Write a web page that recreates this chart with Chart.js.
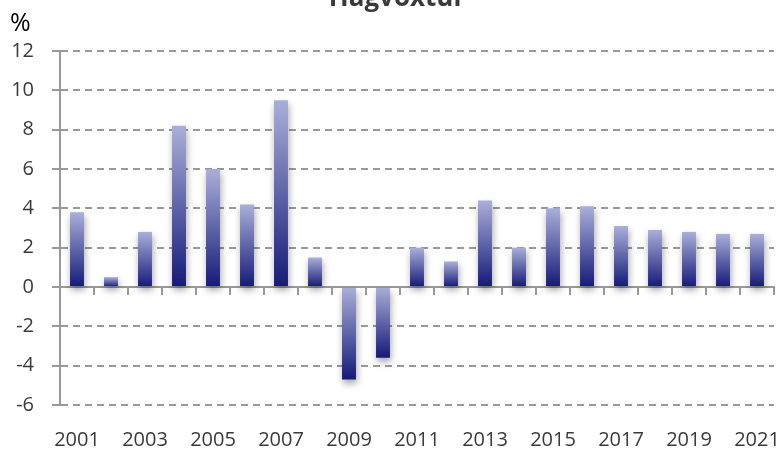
<!DOCTYPE html>
<html>
<head>
<meta charset="utf-8">
<script src="https://cdn.jsdelivr.net/npm/chart.js@4.4.0/dist/chart.umd.min.js"></script>
<style>
  html, body { margin: 0; padding: 0; background: #fff; }
  #wrap { width: 783px; height: 451px; position: relative; }
</style>
</head>
<body>
<div id="wrap"><canvas id="growth"></canvas></div>
<script>
// Hagvöxtur, annual change in %
const years = ['2001', '2002', '2003', '2004', '2005', '2006', '2007', '2008', '2009', '2010', '2011',
    '2012', '2013', '2014', '2015', '2016', '2017', '2018', '2019', '2020', '2021'];
const growth = [3.8, 0.5, 2.8, 8.2, 6.0, 4.2, 9.5, 1.5, -4.7, -3.6, 2.0,
    1.3, 4.4, 2.0, 4.0, 4.1, 3.1, 2.9, 2.8, 2.7, 2.7];
const yMin = -6;
const yMax = 12;
const yStep = 2;
const chartTitle = 'Hagvöxtur';
const unitLabel = '%';

const barLight = 'rgb(170, 175, 217)';
const barDark = 'rgb(20, 26, 120)';
const gridGrey = '#999999';
const textGrey = '#3a3a3a';

Chart.defaults.font.family = '"Open Sans", sans-serif';

// light at the bar end, dark at the far end, for every bar
function barGradient(c) {
    const chart = c.chart;
    if (!chart.chartArea) return barLight;
    const y = chart.scales.y;
    const v = c.raw;
    const top = y.getPixelForValue(Math.max(v, 0));
    const bottom = y.getPixelForValue(Math.min(v, 0));
    const g = chart.ctx.createLinearGradient(0, top, 0, bottom);
    g.addColorStop(0, barLight);
    g.addColorStop(1, barDark);
    return g;
}

const barShadow = {
    id: 'barShadow',
    beforeDatasetsDraw(chart) {
        const ctx = chart.ctx;
        ctx.save();
        ctx.shadowColor = 'rgba(0, 0, 0, 0.35)';
        ctx.shadowBlur = 7;
        ctx.shadowOffsetX = 1;
        ctx.shadowOffsetY = 4;
    },
    afterDatasetsDraw(chart) {
        chart.ctx.restore();
    }
};

const headerText = {
    id: 'headerText',
    afterDraw(chart) {
        const ctx = chart.ctx;
        ctx.save();
        ctx.textBaseline = 'alphabetic';
        ctx.fillStyle = textGrey;
        ctx.font = 'bold 26px "Open Sans"';
        ctx.textAlign = 'center';
        ctx.fillText(chartTitle, 397, 6);
        ctx.fillStyle = '#000';
        ctx.font = '25px "Open Sans"';
        ctx.textAlign = 'left';
        ctx.fillText(unitLabel, 10, 31);
        ctx.restore();
    }
};

const ctx = document.getElementById('growth');
const growthChart = new Chart(ctx, {
    type: 'bar',
    data: {
        labels: years,
        datasets: [{
            data: growth,
            backgroundColor: barGradient,
            borderWidth: 0,
            barPercentage: 0.41,
            categoryPercentage: 1,
            xAxisID: 'x',
            yAxisID: 'y'
        }]
    },
    options: {
        responsive: true,
        maintainAspectRatio: false,
        animation: false,
        layout: {
            padding: { top: 51, right: 9, left: 0, bottom: 0 }
        },
        plugins: {
            legend: { display: false },
            tooltip: { enabled: false }
        },
        scales: {
            x: {
                grid: { display: false, drawTicks: false },
                border: { display: false },
                ticks: {
                    autoSkip: false,
                    maxRotation: 0,
                    padding: 23,
                    color: textGrey,
                    font: { size: 20 },
                    callback: function (v, i) {
                        return i % 2 === 0 ? this.getLabelForValue(v) : '';
                    }
                },
                afterFit: (s) => {
                    s.height = 46;
                    s.paddingLeft = 0;
                    s.paddingRight = 0;
                }
            },
            xZero: {
                type: 'category',
                labels: years,
                position: { y: 0 },
                offset: true,
                grid: {
                    offset: true,
                    drawOnChartArea: false,
                    color: gridGrey,
                    lineWidth: 2,
                    tickLength: 7
                },
                border: { color: gridGrey, width: 2 },
                ticks: { display: false },
                afterFit: (s) => {
                    s.paddingLeft = 0;
                    s.paddingRight = 0;
                }
            },
            y: {
                min: yMin,
                max: yMax,
                ticks: {
                    stepSize: yStep,
                    padding: 18,
                    color: textGrey,
                    font: { size: 20 }
                },
                grid: {
                    color: (c) => c.tick && c.tick.value === 0 ? 'rgba(0,0,0,0)' : gridGrey,
                    tickColor: gridGrey,
                    lineWidth: 2,
                    tickLength: 8
                },
                border: { color: gridGrey, width: 2, dash: [7, 5] },
                afterFit: (s) => { s.width = 60; }
            }
        }
    },
    plugins: [barShadow, headerText]
});
</script>
</body>
</html>
